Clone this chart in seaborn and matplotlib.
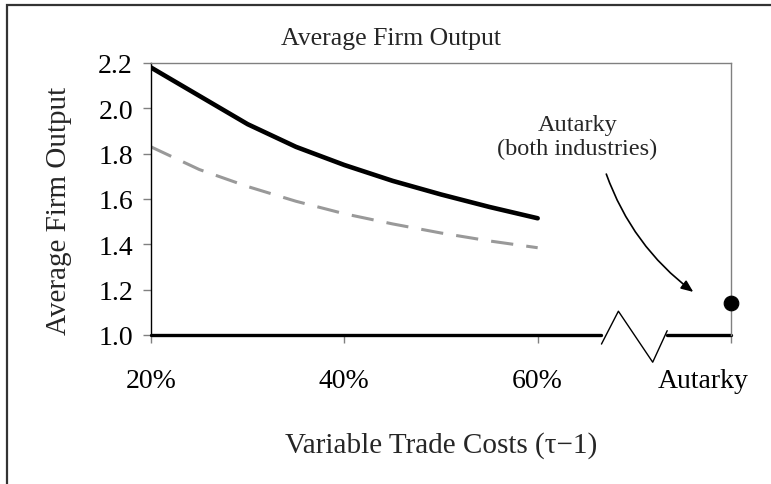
import numpy as np
import pandas as pd
import seaborn as sns
import matplotlib.pyplot as plt
import matplotlib.transforms as mtransforms
from matplotlib.patches import Rectangle
from matplotlib.lines import Line2D

sns.set_theme(style="white")
plt.rcParams['font.family'] = ['Liberation Serif', 'DejaVu Serif']

# data
trade_costs = [20, 25, 30, 35, 40, 45, 50, 55, 60]
output_solid = [2.18, 2.055, 1.93, 1.83, 1.75, 1.68, 1.62, 1.565, 1.515]
output_dashed = [1.83, 1.73, 1.655, 1.59, 1.535, 1.49, 1.45, 1.415, 1.385]
autarky_pos = 80
autarky_output = 1.14

xtick_pos = [20, 40, 60, 80]
xtick_labels = ['20%', '40%', '60%', 'Autarky']
ytick_vals = [1.0, 1.2, 1.4, 1.6, 1.8, 2.0, 2.2]

# axis break (zigzag) on the x axis
break_x = [66.6, 68.35, 71.9, 73.4]
break_y = [0.96, 1.105, 0.88, 1.019]

df = pd.DataFrame({'cost': trade_costs * 2,
                   'output': output_solid + output_dashed,
                   'series': ['a'] * len(trade_costs) + ['b'] * len(trade_costs)})

fig = plt.figure(figsize=(7.71, 4.85), dpi=100)
ax = fig.add_axes([151 / 771, 1 - 336 / 485, 580 / 771, 272 / 485])

sns.lineplot(data=df[df.series == 'a'], x='cost', y='output', color='black',
             linewidth=3.3, ax=ax)
sns.lineplot(data=df[df.series == 'b'], x='cost', y='output', color='#999999',
             linewidth=2.2, ax=ax)
ax.lines[1].set_dashes((7.3, 4.3))
sns.scatterplot(x=[autarky_pos], y=[autarky_output], color='black', s=110,
                edgecolor='black', ax=ax, clip_on=False, zorder=5)

ax.set_xlim(20, 80)
ax.set_ylim(1.0, 2.2)
ax.set_xticks(xtick_pos)
ax.set_xticklabels(xtick_labels)
ax.set_yticks(ytick_vals)
ax.set_yticklabels(['%.1f' % v for v in ytick_vals])
ax.tick_params(axis='both', labelsize=20, colors='#808080', labelcolor='black',
               length=6, width=1, direction='out')
ax.tick_params(axis='x', pad=18, bottom=True)
ax.tick_params(axis='y', pad=7, left=True)

# Autarky label sits a little left of its tick, as in the original
lab = ax.get_xticklabels()[-1]
lab.set_transform(lab.get_transform() +
                  mtransforms.ScaledTranslation(-0.28, 0, fig.dpi_scale_trans))

for s in ['top', 'right']:
    ax.spines[s].set_color('#808080')
    ax.spines[s].set_linewidth(1)
ax.spines['left'].set_color('black')
ax.spines['left'].set_linewidth(1)
ax.spines['bottom'].set_visible(False)

# thick bottom axis with break
ax.add_line(Line2D([20, break_x[0]], [1.0, 1.0], color='black', lw=2.4, clip_on=False))
ax.add_line(Line2D([break_x[-1], 80], [1.0, 1.0], color='black', lw=2.4, clip_on=False))
ax.add_line(Line2D(break_x, break_y, color='black', lw=1, clip_on=False))

ax.set_xlabel('Variable Trade Costs (\u03c4\u22121)', fontsize=21)
ax.set_ylabel('Average Firm Output', fontsize=21)
ax.xaxis.set_label_coords(0.5, -0.355)
ax.yaxis.set_label_coords(-0.136, 0.46)

ax.text(64.1, 1.875, 'Autarky\n(both industries)', fontsize=17.5,
        ha='center', va='center', linespacing=1.15)
ax.annotate('', xy=(76.1, 1.19), xytext=(67.1, 1.71),
            arrowprops=dict(arrowstyle='-|>,head_length=0.6,head_width=0.25',
                            color='black', lw=1.2,
                            connectionstyle='arc3,rad=0.15',
                            shrinkA=0, shrinkB=0))

fig.text(391 / 771, 1 - 39 / 485, 'Average Firm Output', fontsize=18.5,
         ha='center', va='center')

# chart area frame (cropped at the right and bottom)
fig.add_artist(Rectangle((7 / 771, -0.1), 1.2, 1.1 - 6 / 485, transform=fig.transFigure,
                         fill=False, edgecolor='#333333', lw=1.6))

fig.savefig('out.png', dpi=100)
